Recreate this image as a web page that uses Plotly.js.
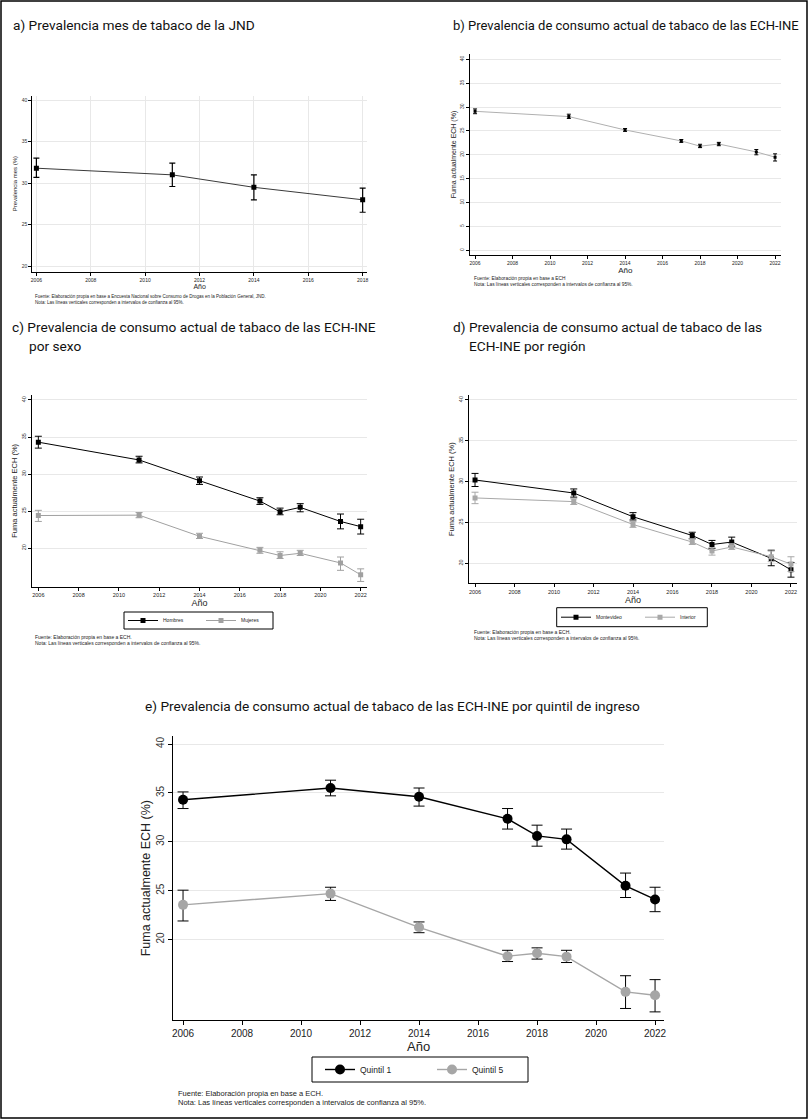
<!DOCTYPE html>
<html>
<head>
<meta charset="utf-8">
<script src="https://cdn.plot.ly/plotly-3.0.1.min.js"></script>
<style>
html,body{margin:0;padding:0;background:#fff;}
#chart{width:808px;height:1119px;}
</style>
</head>
<body>
<div id="chart"></div>
<script>
// ---------- DATA ----------
const yearsJND = [2006, 2011, 2014, 2018];
const jndPrev = [31.8, 31.0, 29.5, 28.0];
const jndLo = [30.7, 29.6, 28.0, 26.5];
const jndHi = [33.0, 32.4, 31.0, 29.4];

const yearsECH = [2006, 2011, 2014, 2017, 2018, 2019, 2021, 2022];
const echTotal = [29.1, 28.0, 25.2, 22.9, 21.8, 22.25, 20.6, 19.5];
const echTotalLo = [28.6, 27.6, 24.9, 22.6, 21.5, 21.9, 20.0, 18.7];
const echTotalHi = [29.6, 28.5, 25.5, 23.2, 22.2, 22.6, 21.1, 20.2];

const hombres = [34.3, 31.9, 29.1, 26.35, 24.9, 25.5, 23.6, 22.9];
const hombresLo = [33.5, 31.5, 28.6, 25.9, 24.5, 24.9, 22.6, 21.9];
const hombresHi = [35.1, 32.4, 29.6, 26.8, 25.4, 26.0, 24.6, 23.9];
const mujeres = [24.4, 24.45, 21.6, 19.7, 19.0, 19.3, 18.0, 16.4];
const mujeresLo = [23.6, 24.1, 21.3, 19.3, 18.6, 19.0, 17.0, 15.5];
const mujeresHi = [25.1, 24.8, 22.0, 20.1, 19.5, 19.7, 18.8, 17.2];

const montevideo = [30.2, 28.6, 25.7, 23.4, 22.3, 22.6, 20.6, 19.2];
const montevideoLo = [29.4, 28.1, 25.3, 23.0, 21.8, 22.1, 19.7, 18.3];
const montevideoHi = [31.0, 29.1, 26.2, 23.8, 22.8, 23.2, 21.6, 20.1];
const interior = [28.0, 27.55, 24.75, 22.6, 21.5, 22.0, 20.8, 19.9];
const interiorLo = [27.3, 27.2, 24.4, 22.3, 21.0, 21.7, 20.2, 19.0];
const interiorHi = [28.7, 27.9, 25.1, 23.0, 21.9, 22.4, 21.5, 20.8];

const quintil1 = [34.3, 35.5, 34.6, 32.35, 30.6, 30.25, 25.5, 24.1];
const quintil1Lo = [33.4, 34.7, 33.65, 31.3, 29.55, 29.25, 24.3, 22.85];
const quintil1Hi = [35.1, 36.3, 35.5, 33.4, 31.7, 31.3, 26.8, 25.35];
const quintil5 = [23.55, 24.7, 21.25, 18.3, 18.6, 18.25, 14.65, 14.3];
const quintil5Lo = [21.9, 24.0, 20.7, 17.75, 18.0, 17.65, 12.95, 12.6];
const quintil5Hi = [25.05, 25.35, 21.8, 18.9, 19.15, 18.9, 16.3, 15.9];

const xTicksJND = [2006, 2008, 2010, 2012, 2014, 2016, 2018];
const xTicksECH = [2006, 2008, 2010, 2012, 2014, 2016, 2018, 2020, 2022];
const yTicks20to40 = [20, 25, 30, 35, 40];
const yTicks0to40 = [0, 5, 10, 15, 20, 25, 30, 35, 40];

const seriesNames = ['Hombres', 'Mujeres', 'Montevideo', 'Interior', 'Quintil 1', 'Quintil 5'];

// ---------- HELPERS ----------
const W = 808, H = 1119;
const fx = p => p / W;
const fy = p => 1 - p / H;
const up = (v, hi) => hi.map((h, i) => +(h - v[i]).toFixed(3));
const dn = (v, lo) => lo.map((l, i) => +(v[i] - l).toFixed(3));
const SANS = 'Liberation Sans, Arial, sans-serif';
const TITLEF = 'Roboto, sans-serif';

function errY(v, lo, hi, color, th, w) {
  return {type: 'data', symmetric: false, array: up(v, hi), arrayminus: dn(v, lo),
          color: color, thickness: th, width: w};
}

const traces = [
  // a
  {x: yearsJND, y: jndPrev, xaxis: 'x', yaxis: 'y', mode: 'lines+markers', showlegend: false,
   line: {color: '#3a3a3a', width: 1}, marker: {symbol: 'square', size: 5, color: '#000'},
   error_y: errY(jndPrev, jndLo, jndHi, '#000', 1.2, 3)},
  // b
  {x: yearsECH, y: echTotal, xaxis: 'x2', yaxis: 'y2', mode: 'lines+markers', showlegend: false,
   line: {color: '#b0b0b0', width: 1}, marker: {symbol: 'square', size: 3, color: '#000'},
   error_y: errY(echTotal, echTotalLo, echTotalHi, '#000', 1, 2)},
  // c
  {x: yearsECH, y: hombres, name: seriesNames[0], xaxis: 'x3', yaxis: 'y3', mode: 'lines+markers', legend: 'legend',
   line: {color: '#000', width: 1}, marker: {symbol: 'square', size: 5, color: '#000'},
   error_y: errY(hombres, hombresLo, hombresHi, '#000', 1, 3.5)},
  {x: yearsECH, y: mujeres, name: seriesNames[1], xaxis: 'x3', yaxis: 'y3', mode: 'lines+markers', legend: 'legend2',
   line: {color: '#a0a0a0', width: 1}, marker: {symbol: 'square', size: 5, color: '#a0a0a0'},
   error_y: errY(mujeres, mujeresLo, mujeresHi, '#a0a0a0', 1, 3.5)},
  // d
  {x: yearsECH, y: montevideo, name: seriesNames[2], xaxis: 'x4', yaxis: 'y4', mode: 'lines+markers', legend: 'legend3',
   line: {color: '#000', width: 1}, marker: {symbol: 'square', size: 5, color: '#000'},
   error_y: errY(montevideo, montevideoLo, montevideoHi, '#000', 1, 3.5)},
  {x: yearsECH, y: interior, name: seriesNames[3], xaxis: 'x4', yaxis: 'y4', mode: 'lines+markers', legend: 'legend4',
   line: {color: '#a8a8a8', width: 1}, marker: {symbol: 'square', size: 5, color: '#a8a8a8'},
   error_y: errY(interior, interiorLo, interiorHi, '#a8a8a8', 1, 3.5)},
  // e
  {x: yearsECH, y: quintil1, name: seriesNames[4], xaxis: 'x5', yaxis: 'y5', mode: 'lines+markers', legend: 'legend5',
   line: {color: '#000', width: 1.4}, marker: {symbol: 'circle', size: 10, color: '#000'},
   error_y: errY(quintil1, quintil1Lo, quintil1Hi, '#000', 1, 5.5)},
  {x: yearsECH, y: quintil5, name: seriesNames[5], xaxis: 'x5', yaxis: 'y5', mode: 'lines+markers', legend: 'legend6',
   line: {color: '#a6a6a6', width: 1.4}, marker: {symbol: 'circle', size: 10, color: '#a6a6a6'},
   error_y: errY(quintil5, quintil5Lo, quintil5Hi, '#000', 1, 5.5)}
];

function xAx(d0, d1, range, ticks, anchor, fs, tl, grid, titleSize, standoff) {
  return {domain: [fx(d0), fx(d1)], range: range, anchor: anchor, tickmode: 'array', tickvals: ticks,
          ticks: 'outside', ticklen: tl, tickcolor: '#000', showline: true, linecolor: '#000', linewidth: 1,
          showgrid: grid, gridcolor: '#e8e8e8', zeroline: false, fixedrange: true,
          tickfont: {family: SANS, size: fs, color: '#222'},
          title: {text: 'Año', font: {family: SANS, size: titleSize, color: '#222'}, standoff: standoff}};
}
function yAx(d0, d1, range, ticks, anchor, fs, tl, angle, titleText, titleSize, standoff) {
  return {domain: [fy(d1), fy(d0)], range: range, anchor: anchor, tickmode: 'array', tickvals: ticks,
          ticks: 'outside', ticklen: tl, tickcolor: '#000', showline: true, linecolor: '#000', linewidth: 1,
          showgrid: true, gridcolor: '#e8e8e8', zeroline: false, fixedrange: true, tickangle: angle,
          tickfont: {family: SANS, size: fs, color: '#333'},
          title: {text: titleText, font: {family: SANS, size: titleSize, color: '#222'}, standoff: standoff}};
}

const yTitle = 'Fuma actualmente ECH (%)';

function note(text, x, y, size) {
  return {text: text, x: fx(x), y: fy(y), xref: 'paper', yref: 'paper', xanchor: 'left', yanchor: 'middle',
          showarrow: false, font: {family: SANS, size: size, color: '#222'}};
}
function head(text, x, y, size, anchor) {
  return {text: text, x: fx(x), y: fy(y), xref: 'paper', yref: 'paper', xanchor: anchor || 'left', yanchor: 'middle',
          showarrow: false, font: {family: TITLEF, size: size, color: '#111'}};
}
function box(x0, y0, x1, y1, w) {
  return {type: 'rect', xref: 'paper', yref: 'paper', x0: fx(x0), x1: fx(x1), y0: fy(y1), y1: fy(y0),
          line: {color: '#000', width: w}, fillcolor: 'rgba(0,0,0,0)'};
}
function leg(x, y, size) {
  return {orientation: 'h', borderwidth: 0, bgcolor: 'rgba(0,0,0,0)', xanchor: 'left', yanchor: 'middle',
          xref: 'paper', yref: 'paper', x: fx(x), y: fy(y), font: {family: SANS, size: size, color: '#222'}};
}
const fuenteJND = 'Fuente: Elaboración propia en base a Encuesta Nacional sobre Consumo de Drogas en la Población General, JND.';
const fuenteECH = 'Fuente: Elaboración propia en base a ECH.';
const nota = 'Nota: Las líneas verticales corresponden a intervalos de confianza al 95%.';

const layout = {
  width: W, height: H, margin: {l: 0, r: 0, t: 0, b: 0}, paper_bgcolor: '#fff', plot_bgcolor: '#fff',
  font: {family: SANS},
  xaxis: xAx(32.3, 367, [2005.85, 2018.16], xTicksJND, 'y', 5, 3, true, 7, 2),
  yaxis: yAx(95.7, 271.7, [19.35, 40.52], yTicks20to40, 'x', 5, 3, 0, 'Prevalencia mes (%)', 6, 3),
  xaxis2: xAx(470, 780.7, [2005.73, 2022.3], xTicksECH, 'y2', 5, 3, false, 8, 1),
  yaxis2: yAx(54, 255, [-0.98, 41.1], yTicks0to40, 'x2', 5, 3, -90, yTitle, 7, 1),
  xaxis3: xAx(32.3, 366.7, [2005.70, 2022.3], xTicksECH, 'y3', 5.5, 3, false, 9, 1),
  yaxis3: yAx(395, 586.7, [14.79, 40.67], yTicks20to40, 'x3', 5.5, 3, -90, yTitle, 7.5, 2),
  xaxis4: xAx(469.3, 796.7, [2005.71, 2022.29], xTicksECH, 'y4', 5.5, 3, false, 9, 1),
  yaxis4: yAx(395, 583.3, [17.55, 40.6], yTicks20to40, 'x4', 5.5, 3, -90, yTitle, 7.5, 2),
  xaxis5: xAx(173.3, 663.9, [2005.67, 2022.3], xTicksECH, 'y5', 10, 4, false, 13, 0),
  yaxis5: yAx(736, 1020.3, [11.74, 40.82], yTicks20to40, 'x5', 10, 4, -90, yTitle, 12.5, 1),
  legend: leg(123, 620.5, 5),
  legend2: leg(201, 620.5, 5),
  legend3: leg(556, 617.2, 5),
  legend4: leg(640, 617.2, 5),
  legend5: leg(320, 1069.5, 8.5),
  legend6: leg(432, 1069.5, 8.5),
  annotations: [
    head('a) Prevalencia mes de tabaco de la JND', 11, 25, 13.7),
    head('b) Prevalencia de consumo actual de tabaco de las ECH-INE', 451, 25, 13),
    head('c) Prevalencia de consumo actual de tabaco de las ECH-INE', 10, 327, 13.7),
    head('por sexo', 27, 346, 13.7),
    head('d) Prevalencia de consumo actual de tabaco de las', 451, 327, 13.7),
    head('ECH-INE por región', 467, 346, 13.7),
    head('e) Prevalencia de consumo actual de tabaco de las ECH-INE por quintil de ingreso', 392, 706, 13.7, 'center'),
    note(fuenteJND, 33, 297, 4.5), note(nota, 33, 303, 4.5),
    note('Fuente: Elaboración propia en base a ECH', 472, 279, 4.8), note(nota, 472, 285, 4.8),
    note(fuenteECH, 33, 637, 5), note(nota, 33, 643, 5),
    note(fuenteECH, 472, 632, 5), note(nota, 472, 638, 5),
    note(fuenteECH, 176, 1093, 7.5), note(nota, 176, 1102, 7.5)
  ],
  shapes: [
    box(1, 1, 807, 1118, 1.5),
    box(124, 612, 273, 629, 1),
    box(556.7, 607.7, 707.3, 626.7, 1),
    box(312, 1057, 528, 1082, 1)
  ]
};

Plotly.newPlot('chart', traces, layout, {displayModeBar: false, staticPlot: true});
</script>
</body>
</html>
